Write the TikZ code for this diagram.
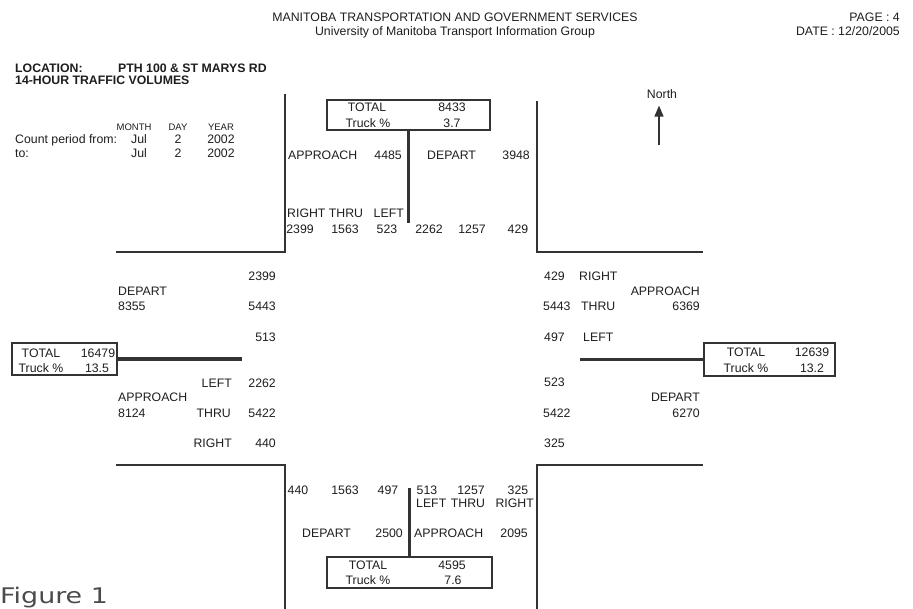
\documentclass[tikz,border=0pt]{standalone}
\usepackage{fontspec}
\setmainfont{Liberation Sans}
\newfontfamily\figfamily[FakeStretch=1.25]{DejaVu Sans}
\usetikzlibrary{arrows.meta}
\definecolor{ink}{HTML}{1E1E1E}
\definecolor{ink2}{HTML}{333333}
\newcommand{\labfont}{\fontsize{12.3}{14}\selectfont}
\newcommand{\smallfont}{\fontsize{9.5}{11}\selectfont}
\tikzset{
  lab/.style={font=\labfont, inner sep=0pt, text height=8.8pt, text depth=0pt, text=ink},
  slab/.style={font=\smallfont, inner sep=0pt, text height=6.9pt, text depth=0pt, text=ink},
  road/.style={line width=2.4pt, draw=ink2, line cap=rect},
  divider/.style={line width=3.6pt, draw=ink2},
  tbox/.style={draw=ink2, line width=1.4pt, inner sep=0pt, fill=white},
}
\begin{document}
\begin{tikzpicture}[x=1pt,y=-1pt]
\useasboundingbox[fill=white] (0,0) rectangle (913,608);

% ---------- header ----------
\node[lab] (h1) at (455,17) {MANITOBA TRANSPORTATION AND GOVERNMENT SERVICES};
\node[lab] (h2) at (455,31) {University of Manitoba Transport Information Group};
\node[lab,anchor=east] (pg) at (900,17) {PAGE : 4};
\node[lab,anchor=east] (dt) at (900,31) {DATE : 12/20/2005};
\node[lab,anchor=west,font=\labfont\bfseries] (loc) at (15,68) {LOCATION:};
\node[lab,anchor=west,font=\labfont\bfseries] (locv) at (118,68) {PTH 100 \& ST MARYS RD};
\node[lab,anchor=west,font=\labfont\bfseries] (hrs) at (15,80) {14-HOUR TRAFFIC VOLUMES};

% ---------- count period ----------
\node[slab] (mo) at (134,127) {MONTH};
\node[slab] (dy) at (178,127) {DAY};
\node[slab] (yr) at (221,127) {YEAR};
\node[lab,anchor=west] (cpf) at (15,139) {Count period from:};
\node[lab] (m1) at (139,139) {Jul};
\node[lab] (d1) at (178,139) {2};
\node[lab] (y1) at (221,139) {2002};
\node[lab,anchor=west] (cpt) at (15,153) {to:};
\node[lab] (m2) at (139,153) {Jul};
\node[lab] (d2) at (178,153) {2};
\node[lab] (y2) at (221,153) {2002};

% ---------- north arrow ----------
\node[lab] (north) at (662,94) {North};
\coordinate (ntail) at (659,145);
\draw[line width=1.4pt, draw=ink2, -{Triangle[length=11pt,width=9pt]}, shorten >=7pt] (ntail) -- (ntail |- north.south);

% ---------- road edges ----------
\draw[road] (285,95) -- (285,252) -- (117,252);
\draw[road] (537,102) -- (537,252) -- (702,252);
\draw[road] (117,465) -- (285,465) -- (285,608);
\draw[road] (702,465) -- (537,465) -- (537,608);

% ---------- total boxes ----------
\node[tbox, minimum width=163pt, minimum height=30pt] (tbox) at (408.5,115) {};
\node[tbox, minimum width=165pt, minimum height=31pt] (bbox) at (409.5,572.5) {};
\node[tbox, minimum width=105pt, minimum height=32pt] (lbox) at (64.5,359) {};
\node[tbox, minimum width=131pt, minimum height=33pt] (rbox) at (769.5,359.5) {};

\coordinate (tend) at (408.5,223);
\coordinate (bend) at (409.5,488);
\coordinate (lend) at (242,359);
\coordinate (rend) at (580,359.5);
\draw[divider] (tbox.south) -- (tend);
\draw[divider] (bbox.north) -- (bend);
\draw[divider] (lbox.east) -- (lend);
\draw[divider] (rbox.west) -- (rend);

% box texts
\node[lab] (tt1) at (367,107) {TOTAL};
\node[lab] (tt2) at (452,107) {8433};
\node[lab] (tt3) at (368,123) {Truck \%};
\node[lab] (tt4) at (452,123) {3.7};

\node[lab] (bt1) at (368,565) {TOTAL};
\node[lab] (bt2) at (452,565) {4595};
\node[lab] (bt3) at (368,580) {Truck \%};
\node[lab] (bt4) at (453,580) {7.6};

\node[lab] (lt1) at (41,353) {TOTAL};
\node[lab] (lt2) at (98,353) {16479};
\node[lab] (lt3) at (41,368) {Truck \%};
\node[lab] (lt4) at (97,368) {13.5};

\node[lab] (rt1) at (746,352) {TOTAL};
\node[lab] (rt2) at (812,352) {12639};
\node[lab] (rt3) at (746,368) {Truck \%};
\node[lab] (rt4) at (812,368) {13.2};

% ---------- north leg ----------
\node[lab,anchor=west] (nap) at (288,155) {APPROACH};
\node[lab,anchor=east] (napv) at (402,155) {4485};
\node[lab,anchor=west] (ndp) at (427,155) {DEPART};
\node[lab,anchor=east] (ndpv) at (530,155) {3948};
\node[lab,anchor=west] (nr) at (287,213) {RIGHT};
\node[lab] (nt) at (346,213) {THRU};
\node[lab,anchor=east] (nl) at (404,213) {LEFT};
\node[lab] (nv1) at (300,229) {2399};
\node[lab] (nv2) at (345,229) {1563};
\node[lab] (nv3) at (387,229) {523};
\node[lab] (nv4) at (429,229) {2262};
\node[lab] (nv5) at (472,229) {1257};
\node[lab] (nv6) at (518,229) {429};

% ---------- west leg ----------
\node[lab,anchor=east] (wv1) at (276,276) {2399};
\node[lab,anchor=west] (wdp) at (118,291) {DEPART};
\node[lab,anchor=west] (wdpv) at (118,306) {8355};
\node[lab,anchor=east] (wv2) at (276,306) {5443};
\node[lab,anchor=east] (wv3) at (276,337) {513};
\node[lab,anchor=east] (wl) at (232,383) {LEFT};
\node[lab,anchor=east] (wv4) at (276,383) {2262};
\node[lab,anchor=west] (wap) at (118,397) {APPROACH};
\node[lab,anchor=west] (wapv) at (118,413) {8124};
\node[lab,anchor=east] (wt) at (231,413) {THRU};
\node[lab,anchor=east] (wv5) at (276,413) {5422};
\node[lab,anchor=east] (wr) at (232,443) {RIGHT};
\node[lab,anchor=east] (wv6) at (276,443) {440};

% ---------- east leg ----------
\node[lab,anchor=west] (ev1) at (544,276) {429};
\node[lab,anchor=west] (er) at (579,276) {RIGHT};
\node[lab,anchor=east] (eap) at (700,291) {APPROACH};
\node[lab,anchor=west] (ev2) at (543,306) {5443};
\node[lab,anchor=west] (et) at (581,306) {THRU};
\node[lab,anchor=east] (eapv) at (700,306) {6369};
\node[lab,anchor=west] (ev3) at (544,337) {497};
\node[lab,anchor=west] (el) at (583,337) {LEFT};
\node[lab,anchor=west] (ev4) at (544,382) {523};
\node[lab,anchor=east] (edp) at (700,397) {DEPART};
\node[lab,anchor=west] (ev5) at (543,413) {5422};
\node[lab,anchor=east] (edpv) at (700,413) {6270};
\node[lab,anchor=west] (ev6) at (544,443) {325};

% ---------- south leg ----------
\node[lab] (sv1) at (298,490) {440};
\node[lab] (sv2) at (345,490) {1563};
\node[lab] (sv3) at (388,490) {497};
\node[lab] (sv4) at (427,490) {513};
\node[lab] (sv5) at (471,490) {1257};
\node[lab] (sv6) at (518,490) {325};
\node[lab,anchor=west] (sl) at (416,503) {LEFT};
\node[lab] (st) at (468,503) {THRU};
\node[lab,anchor=east] (sr) at (534,503) {RIGHT};
\node[lab,anchor=west] (sdp) at (302,533) {DEPART};
\node[lab,anchor=east] (sdpv) at (403,533) {2500};
\node[lab,anchor=west] (sap) at (414,533) {APPROACH};
\node[lab,anchor=east] (sapv) at (528,533) {2095};

% ---------- caption ----------
\node[anchor=base west, inner sep=0pt, font=\figfamily\fontsize{21.5}{24}\selectfont, text=ink!80] (fig) at (0,603) {Figure 1};
\end{tikzpicture}
\end{document}
